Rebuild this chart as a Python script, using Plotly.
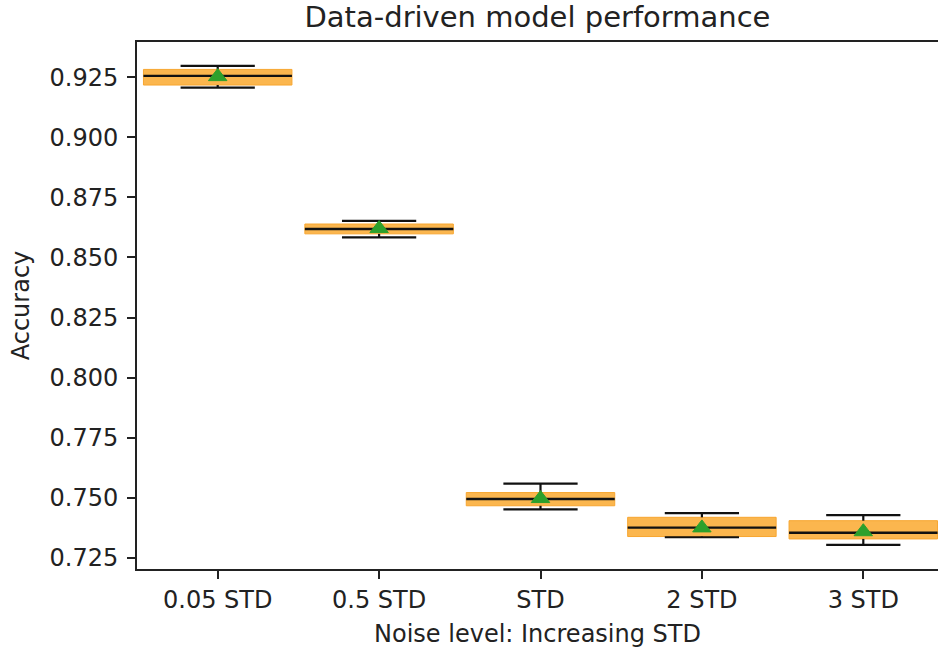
import plotly.graph_objects as go

# Box-plot summary statistics per noise level
labels = ["0.05 STD", "0.5 STD", "STD", "2 STD", "3 STD"]
q1 = [0.9217, 0.8598, 0.7467, 0.7339, 0.7329]
median = [0.9255, 0.8618, 0.7495, 0.7376, 0.7355]
q3 = [0.9282, 0.8639, 0.7522, 0.7419, 0.7405]
lower = [0.9206, 0.8583, 0.7452, 0.7336, 0.7304]
upper = [0.9297, 0.8652, 0.7559, 0.7436, 0.7428]
mean = [0.9252, 0.8620, 0.7497, 0.7375, 0.7359]
ytick_vals = [0.725, 0.75, 0.775, 0.8, 0.825, 0.85, 0.875, 0.9, 0.925]

positions = list(range(1, len(labels) + 1))
box_half = 0.46
cap_half = 0.23

box_fill = "#fbb64e"
box_edge = "#f7a630"
ink = "#111111"
mean_green = "#2ca02c"

fig = go.Figure()

for p, a, m, b, lo, hi in zip(positions, q1, median, q3, lower, upper):
    # filled box from q1 to q3
    fig.add_trace(go.Scatter(
        x=[p - box_half, p + box_half, p + box_half, p - box_half, p - box_half],
        y=[a, a, b, b, a],
        mode="lines", fill="toself", fillcolor=box_fill,
        line=dict(color=box_edge, width=1), hoverinfo="skip", showlegend=False))
    # whiskers and caps
    fig.add_trace(go.Scatter(
        x=[p, p, None, p, p, None,
           p - cap_half, p + cap_half, None, p - cap_half, p + cap_half],
        y=[b, hi, None, a, lo, None, hi, hi, None, lo, lo],
        mode="lines", line=dict(color=ink, width=2.2),
        hoverinfo="skip", showlegend=False))
    # median line
    fig.add_trace(go.Scatter(
        x=[p - box_half, p + box_half], y=[m, m],
        mode="lines", line=dict(color=ink, width=2.4),
        hoverinfo="skip", showlegend=False))

# mean markers
fig.add_trace(go.Scatter(
    x=positions, y=mean, mode="markers",
    marker=dict(symbol="triangle-up", size=16, color=mean_green,
                line=dict(color=mean_green, width=1)),
    hoverinfo="skip", showlegend=False))

font_family = "DejaVu Sans"
fig.update_layout(
    width=938, height=652,
    margin=dict(l=137, r=0, t=42, b=83),
    paper_bgcolor="white", plot_bgcolor="white",
    font=dict(family=font_family, size=24, color="#222222"),
    title=dict(text="Data-driven model performance", x=0.5, xanchor="center",
               xref="paper", y=1 - 17 / 652, yanchor="middle",
               font=dict(family=font_family, size=29, color="#222222")),
    xaxis=dict(
        range=[0.5, 0.5 + 801 / 161.4],
        tickmode="array", tickvals=positions, ticktext=labels,
        ticks="outside", ticklen=8, tickwidth=1.6, tickcolor="#222222",
        showline=True, linecolor="#222222", linewidth=1.8, mirror=True,
        showgrid=False, zeroline=False,
        title=dict(text="Noise level: Increasing STD", standoff=12,
                   font=dict(size=24)),
        tickfont=dict(size=24),
    ),
    yaxis=dict(
        range=[0.7204, 0.9396],
        tickmode="array",
        tickvals=ytick_vals,
        ticktext=[f"{v:.3f}" for v in ytick_vals],
        ticks="outside", ticklen=8, tickwidth=1.6, tickcolor="#222222",
        ticklabelstandoff=4,
        showline=True, linecolor="#222222", linewidth=1.8, mirror=False,
        showgrid=False, zeroline=False,
        title=dict(text="Accuracy", standoff=13, font=dict(size=24)),
        tickfont=dict(size=24),
    ),
)

fig.write_html("out.html")
